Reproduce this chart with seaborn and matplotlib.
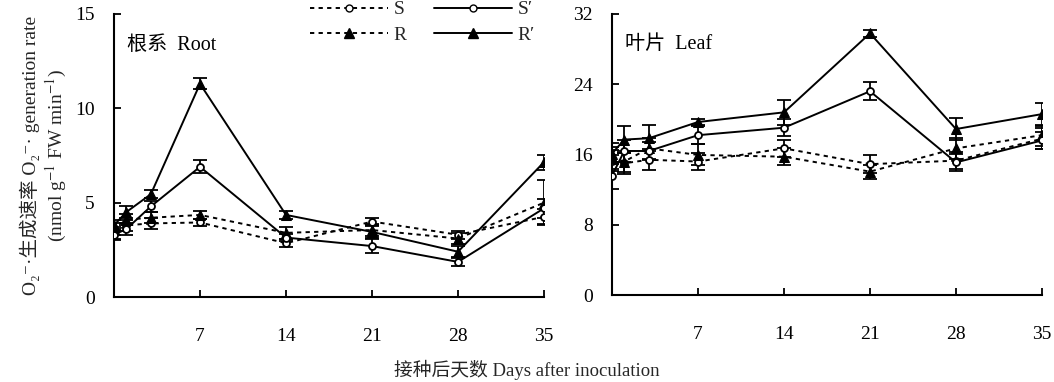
import numpy as np
import pandas as pd
import matplotlib
matplotlib.use("Agg")
import matplotlib.pyplot as plt
import seaborn as sns
from matplotlib.lines import Line2D

days = [0, 1, 3, 7, 14, 21, 28, 35]

# Root
root_S = [3.4, 3.8, 3.9, 3.95, 2.85, 4.0, 3.3, 4.25]
root_R = [3.6, 4.1, 4.2, 4.35, 3.4, 3.55, 3.1, 5.0]
root_Sp = [3.3, 3.6, 4.8, 6.9, 3.15, 2.7, 1.86, 4.7]
root_Rp = [3.8, 4.5, 5.45, 11.3, 4.35, 3.45, 2.4, 7.15]
root_S_err = [0.3, 0.3, 0.3, 0.2, 0.2, 0.2, 0.2, 0.4]
root_R_err = [0.3, 0.3, 0.3, 0.2, 0.3, 0.3, 0.3, 1.2]
root_Sp_err = [0.3, 0.3, 0.3, 0.35, 0.2, 0.35, 0.2, 0.5]
root_Rp_err = [0.3, 0.3, 0.2, 0.3, 0.2, 0.3, 0.3, 0.4]

# Leaf
leaf_S = [15.3, 15.0, 15.4, 15.2, 16.7, 14.9, 15.3, 17.8]
leaf_R = [15.6, 15.2, 16.7, 15.95, 15.75, 14.05, 16.7, 18.2]
leaf_Sp = [13.6, 16.4, 16.4, 18.2, 19.05, 23.2, 15.1, 17.6]
leaf_Rp = [16.1, 17.7, 17.85, 19.7, 20.8, 29.8, 18.9, 20.6]
leaf_S_err = [1.2, 1.2, 1.2, 1.0, 1.0, 1.0, 1.0, 1.2]
leaf_R_err = [1.2, 1.2, 1.2, 1.2, 1.0, 0.8, 1.2, 1.2]
leaf_Sp_err = [1.5, 1.2, 1.0, 1.0, 1.0, 1.0, 1.0, 1.0]
leaf_Rp_err = [1.2, 1.5, 1.5, 0.3, 1.4, 0.4, 1.3, 1.3]

series_names = ["S", "R", "S′", "R′"]

sns.set_theme(style="ticks")
plt.rcParams["font.family"] = ["Liberation Serif", "Noto Sans CJK SC", "DejaVu Sans"]
plt.rcParams["mathtext.fontset"] = "stix"


def make_df(vals, errs):
    rows = []
    for name, v, e in zip(series_names, vals, errs):
        for d, y, er in zip(days, v, e):
            rows.append({"day": d, "series": name, "value": y, "err": er})
    return pd.DataFrame(rows)


root_df = make_df([root_S, root_R, root_Sp, root_Rp],
                  [root_S_err, root_R_err, root_Sp_err, root_Rp_err])
leaf_df = make_df([leaf_S, leaf_R, leaf_Sp, leaf_Rp],
                  [leaf_S_err, leaf_R_err, leaf_Sp_err, leaf_Rp_err])

palette = {n: "black" for n in series_names}
dashes = {"S": (2.2, 2.2), "R": (2.2, 2.2), "S′": "", "R′": ""}
markers = {"S": "o", "R": "^", "S′": "o", "R′": "^"}

fig = plt.figure(figsize=(10.54, 3.82), dpi=100)
ax1 = fig.add_axes([114 / 1054, 1 - 297 / 382, 430 / 1054, 283 / 382])
ax2 = fig.add_axes([612 / 1054, 1 - 295 / 382, 430 / 1054, 281 / 382])


def draw(ax, df, ymax, yticks, label):
    for name in series_names:
        sub = df[df.series == name]
        ax.errorbar(sub["day"], sub["value"], yerr=sub["err"], fmt="none",
                    ecolor="black", elinewidth=1.3, capsize=5, capthick=1.3, zorder=2)
    sns.lineplot(data=df, x="day", y="value", hue="series", style="series",
                 palette=palette, dashes=dashes, markers=markers, ax=ax,
                 linewidth=1.4, markersize=6, legend=False, zorder=3,
                 hue_order=series_names, style_order=series_names)
    for line in ax.get_lines():
        if line.get_marker() == "o":
            line.set_markerfacecolor("white")
            line.set_markeredgecolor("black")
            line.set_markersize(5)
            line.set_markeredgewidth(1.3)
        elif line.get_marker() == "^":
            line.set_markerfacecolor("black")
            line.set_markeredgecolor("black")
            line.set_markersize(7.5)
    ax.set_xlim(0, 35)
    ax.set_ylim(0, ymax)
    ax.set_xticks([7, 14, 21, 28, 35])
    ax.set_yticks(yticks)
    ax.set_xlabel("")
    ax.set_ylabel("")
    sns.despine(ax=ax)
    for s in ["left", "bottom"]:
        ax.spines[s].set_linewidth(1.5)
        ax.spines[s].set_color("black")
    ax.tick_params(axis="x", direction="in", length=5, width=1.3, pad=22,
                   labelsize=14, colors="black")
    ax.tick_params(axis="y", direction="in", length=5, width=1.3, pad=14,
                   labelsize=14, colors="black")
    ax.set_facecolor("white")
    ax.text(0.03, 0.89, label, transform=ax.transAxes, fontsize=14.5,
            ha="left", va="center", color="black")


draw(ax1, root_df, 15, [0, 5, 10, 15], "根系  Root")
draw(ax2, leaf_df, 32, [0, 8, 16, 24, 32], "叶片  Leaf")

fig.text(30 / 1054, 1 - 155 / 382, "O₂⁻·生成速率 O₂⁻· generation rate", rotation=90,
         ha="center", va="center", fontsize=14)
fig.text(56 / 1054, 1 - 155 / 382, r"(nmol g$^{-1}$ FW min$^{-1}$)", rotation=90,
         ha="center", va="center", fontsize=14)
fig.text(527 / 1054, 1 - 370 / 382, "接种后天数 Days after inoculation",
         ha="center", va="center", fontsize=13.5)

handles = []
for name in series_names:
    ls = (0, (2.2, 2.2)) if name in ("S", "R") else "-"
    mk = markers[name]
    handles.append(Line2D([], [], color="black", linestyle=ls, linewidth=1.4,
                          marker=mk, markerfacecolor="white" if mk == "o" else "black",
                          markeredgecolor="black", markersize=5 if mk == "o" else 7))
fig.legend(handles, series_names, loc="upper left", bbox_to_anchor=(310 / 1054, 0.998),
           ncol=2, frameon=False, fontsize=14, handlelength=4.0, columnspacing=1.4,
           handletextpad=0.3, labelspacing=0.4, borderaxespad=0.0, borderpad=0.0)

fig.savefig("out.png", dpi=100, facecolor="white")
